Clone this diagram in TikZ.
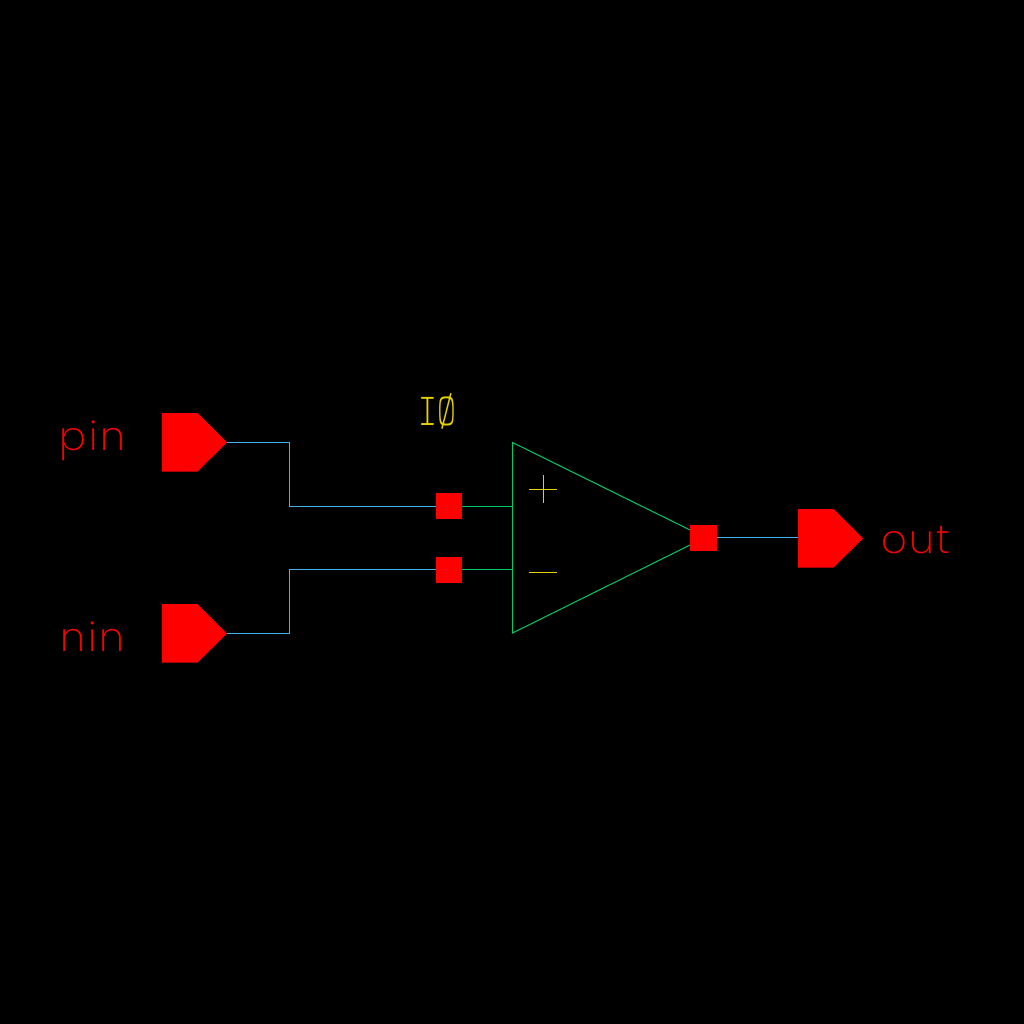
\documentclass[tikz,border=0pt]{standalone}
\usepackage{fontspec}
\newfontfamily\schemfont{Latin Modern Mono Light}
\newfontfamily\pinfont[LetterSpace=6]{Poppins ExtraLight}
\definecolor{wireblue}{RGB}{64,180,240}
\definecolor{symgreen}{RGB}{0,204,102}
\definecolor{labelyellow}{RGB}{230,210,0}
\newcommand{\pinblock}[3]{ % #1 e #2 angolo in alto a sinistra, #3 nome della punta
  \fill[red] (#1,#2) -- (#1+35.5,#2) -- (#1+65,#2+29.5) -- (#1+35.5,#2+58.5) -- (#1,#2+58.5) -- cycle;
  \coordinate (#3) at (#1+65,#2+29.5);
}
\tikzset{
  pad/.style={draw=none, fill=red, minimum width=26.5pt, minimum height=26.5pt, inner sep=0pt},
  wire/.style={wireblue, line width=1pt},
  sym/.style={symgreen, line width=1pt},
  pinlabel/.style={red, inner sep=0pt, anchor=base, font=\pinfont\fontsize{40}{40}\selectfont},
  instlabel/.style={labelyellow, inner sep=0pt, font=\schemfont\fontsize{46}{46}\selectfont, xscale=0.78}
}
\begin{document}
\begin{tikzpicture}[x=1pt, y=-1pt]
    \useasboundingbox[fill=black] (0,0) rectangle (1024,1024);

    \pinblock{162}{413}{pintip}
    \pinblock{162}{604}{nintip}
    \pinblock{798}{509}{outtip}
    \coordinate (outtail) at (798,537.5);

    \coordinate (triA) at (512.5,442.5);
    \coordinate (triB) at (512.5,633);
    \coordinate (triP) at (512.5,506.5);
    \coordinate (triM) at (512.5,569.5);
    \coordinate (pinbend) at (289.5,506.5);
    \coordinate (ninbend) at (289.5,569.5);

    \node[pad] (padp) at (449,506) {};
    \node[pad] (padm) at (449,570) {};
    \node[pad] (pado) at (703.5,538) {};

    \draw[wire] (pintip) -| (pinbend) -- (padp.west |- pinbend);
    \draw[wire] (nintip) -| (ninbend) -- (padm.west |- ninbend);
    \draw[wire] (pado.east |- outtail) -- (outtail);

    \draw[sym] (padp.east |- triP) -- (triP);
    \draw[sym] (padm.east |- triM) -- (triM);
    \draw[sym] (pado.west |- 0,545) -- (triB) -- (triA) -- (pado.west |- 0,530);

    \draw[labelyellow, line width=1pt] (529,489.5) -- (557,489.5) (543.5,475) -- (543.5,503);
    \draw[labelyellow, line width=1pt] (529,572.5) -- (557,572.5);

    \node[pinlabel] (pinname) at (92.5,450) {pin};
    \node[pinlabel] (ninname) at (92.5,651) {nin};
    \node[pinlabel] (outname) at (916,553) {out};
    \node[instlabel] (instname) at (437,411) {IØ};
\end{tikzpicture}
\end{document}
